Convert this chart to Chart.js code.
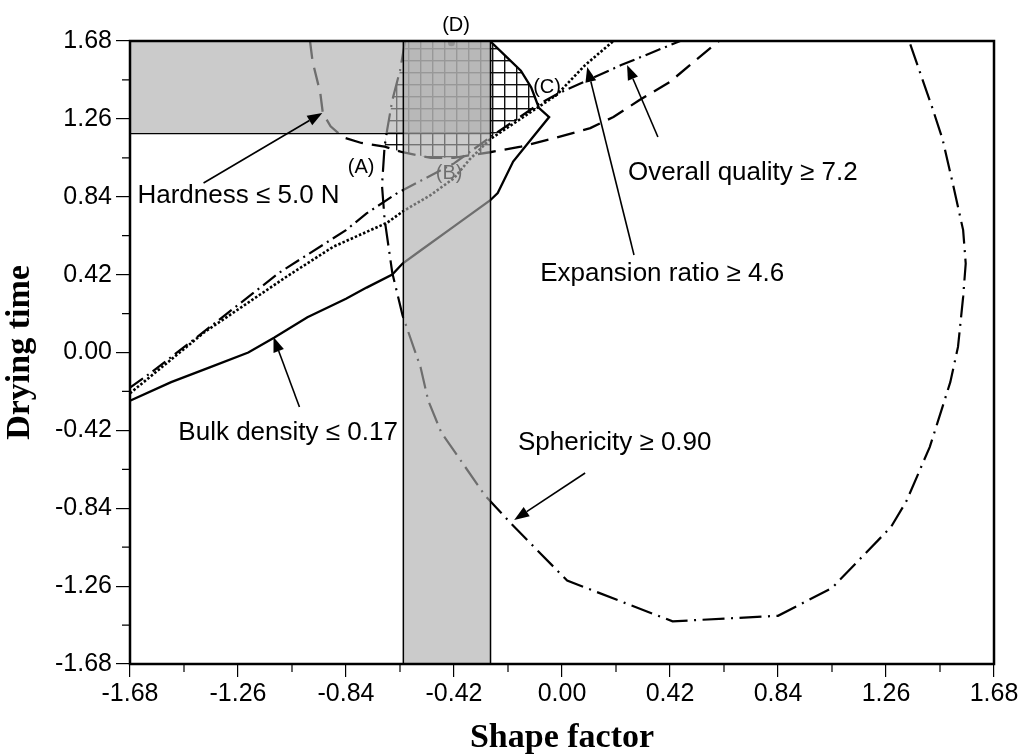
<!DOCTYPE html>
<html>
<head>
<meta charset="utf-8">
<title>Drying time vs shape factor – overlaid contour plot</title>
<script src="https://cdn.jsdelivr.net/npm/chart.js@4.4.1/dist/chart.umd.min.js"></script>
<style>
  html, body { margin: 0; padding: 0; background: #fff; }
  #wrap { width: 1029px; height: 754px; }
</style>
</head>
<body>
<div id="wrap"><canvas id="c" width="1029" height="754"></canvas></div>
<script>
// ---- axis ticks (coded levels) ----
const AXIS_TICKS = [-1.68, -1.26, -0.84, -0.42, 0, 0.42, 0.84, 1.26, 1.68];

// ---- constraint contours (shape factor x, drying time y) ----
const bulkX = [-1.68, -1.52, -1.37, -1.22, -1.12, -0.99, -0.84, -0.76, -0.66, -0.62, -0.55, -0.42, -0.28, -0.25, -0.19, -0.12, -0.05, -0.09, -0.12, -0.16, -0.22, -0.28];
const bulkY = [-0.26, -0.16, -0.08, 0.00, 0.08, 0.19, 0.29, 0.35, 0.42, 0.48, 0.55, 0.68, 0.82, 0.86, 1.03, 1.15, 1.27, 1.32, 1.43, 1.52, 1.60, 1.68];

const hardX = [-0.98, -0.97, -0.94, -0.93, -0.90, -0.85, -0.78, -0.69, -0.62, -0.51, -0.42, -0.28, -0.16, -0.02, 0.11, 0.20, 0.30, 0.42, 0.61];
const hardY = [1.68, 1.57, 1.40, 1.29, 1.22, 1.16, 1.13, 1.11, 1.08, 1.05, 1.05, 1.08, 1.11, 1.16, 1.21, 1.27, 1.36, 1.46, 1.68];

const spherX = [-0.61, -0.63, -0.66, -0.68, -0.69, -0.70, -0.69, -0.66, -0.62, -0.55, -0.52, -0.47, -0.30, -0.20, 0.02, 0.43, 0.84, 1.05, 1.28, 1.34, 1.43, 1.46, 1.51, 1.54, 1.56, 1.57, 1.56, 1.52, 1.48, 1.44, 1.39, 1.35];
const spherY = [1.68, 1.52, 1.36, 1.20, 1.11, 0.90, 0.72, 0.43, 0.20, -0.08, -0.26, -0.43, -0.77, -0.92, -1.23, -1.45, -1.42, -1.27, -0.94, -0.80, -0.51, -0.38, -0.16, 0.03, 0.30, 0.48, 0.66, 0.91, 1.15, 1.32, 1.52, 1.68];

const expX = [-1.68, -1.39, -1.07, -0.89, -0.68, -0.62, -0.51, -0.42, -0.36, -0.28, -0.15, -0.02, 0.09, 0.20];
const expY = [-0.22, 0.11, 0.41, 0.57, 0.70, 0.76, 0.85, 0.94, 1.04, 1.15, 1.27, 1.39, 1.55, 1.68];

const qualX = [-1.68, -1.60, -1.45, -1.10, -0.84, -0.76, -0.64, -0.42, -0.27, -0.09, -0.01, 0.23, 0.46];
const qualY = [-0.19, -0.11, 0.05, 0.43, 0.66, 0.75, 0.86, 1.02, 1.17, 1.34, 1.40, 1.55, 1.68];

// ---- feasible (overlapping) region, cross-hatched ----
const hatchX = [-0.61, -0.28, -0.22, -0.16, -0.12, -0.085, -0.27, -0.28, -0.28, -0.42, -0.51, -0.62, -0.69, -0.68, -0.66, -0.63, -0.61];
const hatchY = [1.68, 1.68, 1.60, 1.52, 1.43, 1.33, 1.17, 1.16, 1.08, 1.05, 1.05, 1.08, 1.11, 1.20, 1.36, 1.52, 1.68];

// ---- optimum point (D) ----
const optX = [-0.43];
const optY = [1.67];

// ---- shaded ranges ----
const shapeRange = [-0.617, -0.278];  // shape factor window (vertical band)
const dryRange = [1.18, 1.68];        // drying time window (horizontal band)

const AX_MIN = -1.68, AX_MAX = 1.68;

const pts = (xs, ys) => xs.map((x, i) => ({ x, y: ys[i] }));

const vBand = pts(
  [shapeRange[0], shapeRange[1], shapeRange[1], shapeRange[0], shapeRange[0]],
  [AX_MIN, AX_MIN, AX_MAX, AX_MAX, AX_MIN]
);
const hBand = pts(
  [AX_MIN, shapeRange[1], shapeRange[1], AX_MIN, AX_MIN],
  [dryRange[0], dryRange[0], dryRange[1], dryRange[1], dryRange[0]]
);

// grid hatching pattern
function gridPattern() {
  const c = document.createElement('canvas');
  c.width = 12; c.height = 12;
  const g = c.getContext('2d');
  g.fillStyle = '#111';
  g.fillRect(0, 0, 12, 1.4);
  g.fillRect(0, 0, 1.4, 12);
  return document.getElementById('c').getContext('2d').createPattern(c, 'repeat');
}

// text labels and arrows (data coordinates)
const LABEL_FONT = '26px "Liberation Sans", Arial, sans-serif';
const POINT_FONT = '20px "Liberation Sans", Arial, sans-serif';
const labels = [
  { text: 'Hardness \u2264 5.0 N', x: -1.651, y: 0.806, font: LABEL_FONT, align: 'left' },
  { text: 'Bulk density \u2264 0.17', x: -1.492, y: -0.472, font: LABEL_FONT, align: 'left' },
  { text: 'Sphericity \u2265 0.90', x: -0.171, y: -0.526, font: LABEL_FONT, align: 'left' },
  { text: 'Expansion ratio \u2265 4.6', x: -0.085, y: 0.386, font: LABEL_FONT, align: 'left' },
  { text: 'Overall quality \u2265 7.2', x: 0.257, y: 0.930, font: LABEL_FONT, align: 'left' },
  { text: '(A)', x: -0.781, y: 0.968, font: POINT_FONT, align: 'center' },
  { text: '(B)', x: -0.439, y: 0.936, font: POINT_FONT, align: 'center' },
  { text: '(C)', x: -0.058, y: 1.400, font: POINT_FONT, align: 'center' },
  { text: '(D)', x: -0.412, y: 1.734, font: POINT_FONT, align: 'center' }
];
const arrows = [
  { from: [-1.394, 0.914], to: [-0.932, 1.292] },
  { from: [-1.021, -0.294], to: [-1.122, 0.084] },
  { from: [0.090, -0.650], to: [-0.186, -0.903] },
  { from: [0.280, 0.526], to: [0.098, 1.540] },
  { from: [0.373, 1.162], to: [0.253, 1.551] }
];

function drawArrow(ctx, x1, y1, x2, y2) {
  const a = Math.atan2(y2 - y1, x2 - x1);
  const L = 15, W = 5.5;
  const bx = x2 - L * Math.cos(a), by = y2 - L * Math.sin(a);
  ctx.beginPath();
  ctx.moveTo(x1, y1);
  ctx.lineTo(bx, by);
  ctx.lineWidth = 1.6;
  ctx.strokeStyle = '#000';
  ctx.stroke();
  ctx.beginPath();
  ctx.moveTo(x2, y2);
  ctx.lineTo(bx - W * Math.sin(a), by + W * Math.cos(a));
  ctx.lineTo(bx + W * Math.sin(a), by - W * Math.cos(a));
  ctx.closePath();
  ctx.fillStyle = '#000';
  ctx.fill();
}

const H_BAND_INDEX = 1;

// labels/arrows go under the translucent shaded bands
const notesPlugin = {
  id: 'notes',
  beforeDatasetDraw(chart, args) {
    if (args.index !== H_BAND_INDEX) return;
    const { ctx, scales } = chart;
    ctx.save();
    arrows.forEach(ar => {
      drawArrow(ctx,
        scales.x.getPixelForValue(ar.from[0]), scales.y.getPixelForValue(ar.from[1]),
        scales.x.getPixelForValue(ar.to[0]), scales.y.getPixelForValue(ar.to[1]));
    });
    ctx.fillStyle = '#000';
    ctx.textBaseline = 'alphabetic';
    labels.forEach(l => {
      ctx.font = l.font;
      ctx.textAlign = l.align;
      ctx.fillText(l.text, scales.x.getPixelForValue(l.x), scales.y.getPixelForValue(l.y));
    });
    ctx.restore();
  }
};

// minor ticks and the plot frame
const framePlugin = {
  id: 'frame',
  afterDraw(chart) {
    const { ctx, chartArea: ca, scales } = chart;
    ctx.save();
    ctx.strokeStyle = '#000';
    ctx.lineWidth = 1.2;
    for (let i = 0; i < AXIS_TICKS.length - 1; i++) {
      const m = (AXIS_TICKS[i] + AXIS_TICKS[i + 1]) / 2;
      const px = scales.x.getPixelForValue(m);
      const py = scales.y.getPixelForValue(m);
      ctx.beginPath();
      ctx.moveTo(px, ca.bottom); ctx.lineTo(px, ca.bottom + 8);
      ctx.moveTo(ca.left, py); ctx.lineTo(ca.left - 8, py);
      ctx.stroke();
    }
    ctx.lineWidth = 2.5;
    ctx.strokeRect(ca.left, ca.top, ca.right - ca.left, ca.bottom - ca.top);
    ctx.restore();
  }
};

const line = (data, dash, width, order) => ({
  data, showLine: true, fill: false, tension: 0,
  borderColor: '#000', borderWidth: width, borderDash: dash,
  pointRadius: 0, order
});

const tickFont = { family: 'Liberation Sans', size: 25 };
const titleFont = { family: 'Liberation Serif', size: 34, weight: 'bold' };

new Chart(document.getElementById('c'), {
  type: 'scatter',
  data: {
    datasets: [
      { label: 'shape window', data: vBand, showLine: true, fill: 'shape', tension: 0,
        backgroundColor: 'rgba(173,173,173,0.635)', borderColor: '#000', borderWidth: 1.5, pointRadius: 0, order: 1 },
      { label: 'drying window', data: hBand, showLine: true, fill: 'shape', tension: 0,
        backgroundColor: 'rgba(173,173,173,0.635)', borderColor: '#000', borderWidth: 1.2, pointRadius: 0, order: 2 },
      { label: 'optimum', data: pts(optX, optY), showLine: false, pointRadius: 3.5,
        pointBackgroundColor: '#000', pointBorderWidth: 0, order: 3 },
      line(pts(bulkX, bulkY), [], 2.3, 3),
      line(pts(hardX, hardY), [18, 9], 2.3, 3),
      line(pts(spherX, spherY), [22, 6.5, 2, 6.5], 2.2, 3),
      line(pts(expX, expY), [2.5, 2], 2.6, 3),
      line(pts(qualX, qualY), [16, 5, 2, 5], 2.2, 3),
      { label: 'feasible region', data: pts(hatchX, hatchY), showLine: true, fill: 'shape', tension: 0,
        backgroundColor: gridPattern(), borderWidth: 0, pointRadius: 0, order: 5 }
    ]
  },
  options: {
    responsive: false,
    animation: false,
    devicePixelRatio: 1,
    layout: { padding: { top: 41, right: 35, left: 0, bottom: 0 } },
    plugins: { legend: { display: false }, tooltip: { enabled: false } },
    scales: {
      x: {
        type: 'linear', min: AX_MIN, max: AX_MAX,
        afterBuildTicks: s => { s.ticks = AXIS_TICKS.map(v => ({ value: v })); },
        afterFit: s => { s.height = 90; },
        ticks: { callback: v => Number(v).toFixed(2), font: tickFont, color: '#000', padding: 2, maxRotation: 0, autoSkip: false },
        grid: { drawOnChartArea: false, tickLength: 13, color: '#000', lineWidth: 1.2 },
        border: { display: false },
        title: { display: true, text: 'Shape factor', font: Object.assign({ lineHeight: 0.76 }, titleFont), color: '#000', padding: { top: 0, bottom: 3 } }
      },
      y: {
        type: 'linear', min: AX_MIN, max: AX_MAX,
        afterBuildTicks: s => { s.ticks = AXIS_TICKS.map(v => ({ value: v })); },
        afterFit: s => { s.width = 130; },
        ticks: { callback: v => Number(v).toFixed(2), font: tickFont, color: '#000', padding: 4, autoSkip: false },
        grid: { drawOnChartArea: false, tickLength: 14, color: '#000', lineWidth: 1.2 },
        border: { display: false },
        title: { display: true, text: 'Drying time', font: titleFont, color: '#000', padding: { top: 0, bottom: 0 } }
      }
    }
  },
  plugins: [notesPlugin, framePlugin]
});
</script>
</body>
</html>
